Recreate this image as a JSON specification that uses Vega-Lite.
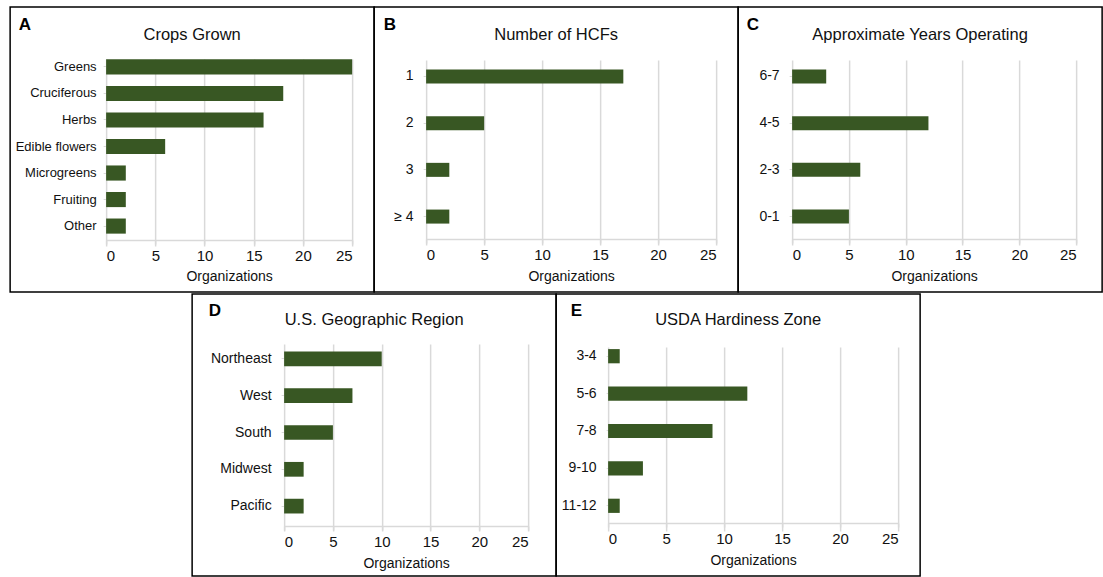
{
  "$schema": "https://vega.github.io/schema/vega-lite/v6.json",
  "padding": {"left": 9, "top": 6, "right": 0, "bottom": 0},
  "background": "white",
  "datasets": {
    "A": [
      {"label": "Greens", "value": 25},
      {"label": "Cruciferous", "value": 18},
      {"label": "Herbs", "value": 16},
      {"label": "Edible flowers", "value": 6},
      {"label": "Microgreens", "value": 2},
      {"label": "Fruiting", "value": 2},
      {"label": "Other", "value": 2}
    ],
    "B": [
      {"label": "1", "value": 17},
      {"label": "2", "value": 5},
      {"label": "3", "value": 2},
      {"label": "≥ 4", "value": 2}
    ],
    "C": [
      {"label": "6-7", "value": 3},
      {"label": "4-5", "value": 12},
      {"label": "2-3", "value": 6},
      {"label": "0-1", "value": 5}
    ],
    "D": [
      {"label": "Northeast", "value": 10},
      {"label": "West", "value": 7},
      {"label": "South", "value": 5},
      {"label": "Midwest", "value": 2},
      {"label": "Pacific", "value": 2}
    ],
    "E": [
      {"label": "3-4", "value": 1},
      {"label": "5-6", "value": 12},
      {"label": "7-8", "value": 9},
      {"label": "9-10", "value": 3},
      {"label": "11-12", "value": 1}
    ]
  },
  "spacing": 0,
  "center": true,
  "vconcat": [
    {
      "spacing": 0,
      "bounds": "flush",
      "hconcat": [
        {
          "width": 364, "height": 285,
          "data": {"name": "A"},
          "title": {"text": "Crops Grown", "offset": -49, "baseline": "alphabetic"},
          "mark": {"type": "bar", "color": "#385723"},
          "encoding": {
            "y": {"field": "label", "type": "nominal", "sort": null,
              "scale": {"range": [46, 233], "paddingInner": 0.43, "paddingOuter": 0.24},
              "axis": {"offset": -96, "labelFontSize": 13, "labelPadding": 7, "title": "A", "titleX": -88, "titleY": 22}},
            "x": {"field": "value", "type": "quantitative",
              "scale": {"domain": [0, 25], "range": [96, 342], "nice": false},
              "axis": {"offset": -52, "values": [0, 5, 10, 15, 20, 25], "title": "Organizations", "titleY": 40}}
          }
        },
        {
          "width": 364, "height": 285,
          "data": {"name": "B"},
          "title": {"text": "Number of HCFs", "offset": -49, "baseline": "alphabetic"},
          "mark": {"type": "bar", "color": "#385723"},
          "encoding": {
            "y": {"field": "label", "type": "nominal", "sort": null,
              "scale": {"range": [47, 232], "paddingInner": 0.7, "paddingOuter": 0.33},
              "axis": {"offset": -52, "title": "B", "titleX": -43, "titleY": 22}},
            "x": {"field": "value", "type": "quantitative",
              "scale": {"domain": [0, 25], "range": [52, 342], "nice": false},
              "axis": {"offset": -53, "values": [0, 5, 10, 15, 20, 25], "title": "Organizations", "titleY": 41}}
          }
        },
        {
          "width": 364, "height": 285,
          "data": {"name": "C"},
          "title": {"text": "Approximate Years Operating", "offset": -49, "baseline": "alphabetic"},
          "mark": {"type": "bar", "color": "#385723"},
          "encoding": {
            "y": {"field": "label", "type": "nominal", "sort": null,
              "scale": {"range": [47, 232], "paddingInner": 0.7, "paddingOuter": 0.33},
              "axis": {"offset": -54, "title": "C", "titleX": -46, "titleY": 22}},
            "x": {"field": "value", "type": "quantitative",
              "scale": {"domain": [0, 25], "range": [54, 338], "nice": false},
              "axis": {"offset": -53, "values": [0, 5, 10, 15, 20, 25], "title": "Organizations", "titleY": 41}}
          }
        }
      ]
    },
    {
      "spacing": 0,
      "bounds": "flush",
      "hconcat": [
        {
          "width": 364, "height": 282,
          "data": {"name": "D"},
          "title": {"text": "U.S. Geographic Region", "offset": -47, "baseline": "alphabetic"},
          "mark": {"type": "bar", "color": "#385723"},
          "encoding": {
            "y": {"field": "label", "type": "nominal", "sort": null,
              "scale": {"range": [45, 232], "paddingInner": 0.6, "paddingOuter": 0.34},
              "axis": {"offset": -92, "title": "D", "titleX": -76, "titleY": 21}},
            "x": {"field": "value", "type": "quantitative",
              "scale": {"domain": [0, 25], "range": [92, 336], "nice": false},
              "axis": {"offset": -50, "values": [0, 5, 10, 15, 20, 25], "title": "Organizations", "titleY": 41}}
          }
        },
        {
          "width": 364, "height": 282,
          "data": {"name": "E"},
          "title": {"text": "USDA Hardiness Zone", "offset": -47, "baseline": "alphabetic"},
          "mark": {"type": "bar", "color": "#385723"},
          "encoding": {
            "y": {"field": "label", "type": "nominal", "sort": null,
              "scale": {"range": [45, 229], "paddingInner": 0.62, "paddingOuter": 0.27},
              "axis": {"offset": -53, "title": "E", "titleX": -39, "titleY": 21}},
            "x": {"field": "value", "type": "quantitative",
              "scale": {"domain": [0, 25], "range": [52, 342], "nice": false},
              "axis": {"offset": -53, "values": [0, 5, 10, 15, 20, 25], "title": "Organizations", "titleY": 41}}
          }
        }
      ]
    }
  ],
  "config": {
    "font": "Liberation Sans",
    "view": {"stroke": "#000000", "strokeWidth": 1.5},
    "title": {"fontSize": 16.5, "fontWeight": "normal", "color": "#111111", "anchor": "middle", "frame": "group", "font": "Liberation Sans"},
    "axisY": {
      "orient": "left", "domain": false, "grid": false, "ticks": true, "tickSize": 3, "tickColor": "#d9d9d9",
      "labelFontSize": 14, "labelColor": "#111111", "labelPadding": 10, "labelFont": "Liberation Sans",
      "titleAngle": 0, "titleAlign": "left", "titleBaseline": "alphabetic", "titleFontWeight": "bold",
      "titleFontSize": 17, "titleColor": "#000000", "titleFont": "Liberation Sans"
    },
    "axisX": {
      "orient": "bottom", "grid": true, "gridColor": "#d9d9d9", "gridWidth": 1.5,
      "domain": true, "domainColor": "#d9d9d9", "domainWidth": 1.5, "ticks": true, "tickColor": "#d9d9d9", "tickWidth": 1.5, "tickSize": 4,
      "labelFontSize": 15, "labelColor": "#111111", "labelPadding": 4, "labelFont": "Liberation Sans",
      "titleFontSize": 14, "titleFontWeight": "normal", "titleColor": "#111111", "titleBaseline": "alphabetic", "titleFont": "Liberation Sans"
    }
  }
}
